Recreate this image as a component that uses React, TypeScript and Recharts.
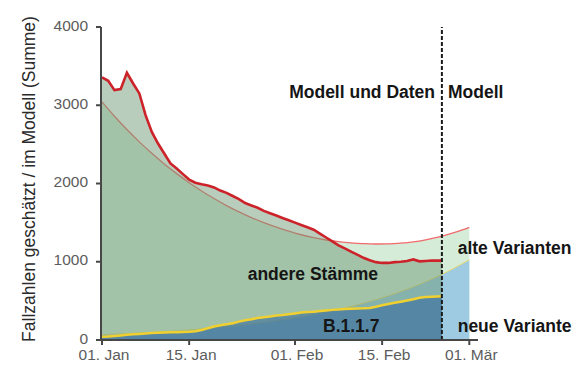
import { ComposedChart, Area, Line, XAxis, YAxis, ReferenceLine } from "recharts";

// days since 01. Jan; the last data point sits on the dashed line
const CUT = 54.6;

const tickDays = [0, 14, 31, 45, 59];
const tickLabels = ["01. Jan", "15. Jan", "01. Feb", "15. Feb", "01. Mär"];
const yTicks = [0, 1000, 2000, 3000, 4000];

// reported cases (sum), red line
const dataTotal = [
  3355, 3312, 3193, 3206, 3414, 3278, 3151, 2874, 2660, 2511,
  2384, 2256, 2192, 2120, 2050, 2010, 1990, 1975, 1950, 1910,
  1880, 1840, 1800, 1750, 1720, 1690, 1650, 1620, 1590, 1560,
  1530, 1500, 1470, 1440, 1410, 1360, 1310, 1260, 1210, 1170,
  1130, 1090, 1050, 1020, 995, 985, 985, 995, 1000, 1010,
  1030, 1005, 1010, 1015, 1015,
];

// estimated B.1.1.7 cases, yellow line
const dataB = [
  42, 45, 50, 58, 66, 72, 78, 84, 88, 92,
  96, 99, 100, 102, 106, 112, 128, 150, 172, 188,
  200, 215, 235, 252, 265, 280, 292, 300, 312, 320,
  330, 340, 350, 358, 362, 370, 378, 385, 390, 395,
  398, 402, 405, 410, 425, 445, 460, 475, 490, 505,
  520, 540, 548, 554, 560,
];

const modelDays = [
  0, 2, 4, 6, 8, 10, 12, 14, 16, 18, 20, 22, 24, 26, 28, 30,
  32, 34, 36, 38, 40, 42, 44, 46, 48, 50, 52, 54, 56, 58, 59,
];

// model, sum of both lineages
const modelTotal = [
  3043, 2860, 2690, 2532, 2386, 2250, 2126, 2010, 1905, 1808, 1718, 1638, 1565, 1500, 1442, 1390,
  1345, 1308, 1278, 1256, 1240, 1231, 1227, 1229, 1238, 1254, 1280, 1314, 1358, 1410, 1440,
];

// model, new variant only
const modelB = [
  68, 75, 82, 90, 98, 108, 118, 129, 142, 156, 171, 187, 205, 225, 247, 270,
  296, 325, 356, 391, 428, 470, 515, 564, 619, 678, 744, 815, 894, 980, 1025,
];

const dataRows = dataTotal.map((v, i) => ({
  day: i === dataTotal.length - 1 ? CUT : i,
  total: v,
  b: dataB[i],
}));

const modelRows = modelDays.map((d, i) => ({
  day: d,
  total: modelTotal[i],
  b: modelB[i],
}));

const FONT = "'Liberation Sans', Arial, Helvetica, sans-serif";
const AXIS = "#474747";

const note = {
  fontFamily: FONT,
  fontSize: 17.5,
  fontWeight: 700,
  fill: "#151515",
};

export default function App() {
  return (
    <div style={{ position: "relative", width: 574, height: 369 }}>
      <ComposedChart
        width={574}
        height={369}
        margin={{ top: 19, right: 104, bottom: 7, left: 0 }}
        style={{ fontFamily: FONT }}
      >
        <XAxis
          type="number"
          dataKey="day"
          domain={[-0.16, 60.4]}
          ticks={tickDays}
          tickFormatter={(d: number) => tickLabels[tickDays.indexOf(d)]}
          allowDataOverflow
          height={30}
          stroke={AXIS}
          strokeWidth={2}
          tickSize={5}
          tickMargin={4}
          tick={{ fill: "#5c5c5c", fontSize: 15.5, dx: 2 }}
        />
        <YAxis
          type="number"
          domain={[0, 4000]}
          ticks={yTicks}
          width={93}
          stroke={AXIS}
          strokeWidth={2}
          tickSize={5}
          tickMargin={8}
          tick={{ fill: "#5c5c5c", fontSize: 15.5, dy: -2 }}
        />

        {/* model: old + new variants */}
        <Area
          data={modelRows}
          dataKey="total"
          type="monotone"
          fill="#d5ecd8"
          fillOpacity={1}
          stroke="#f06b6b"
          strokeWidth={1.3}
          isAnimationActive={false}
        />
        {/* model: new variant */}
        <Area
          data={modelRows}
          dataKey="b"
          type="monotone"
          fill="#9ecbe2"
          fillOpacity={1}
          stroke="#e8d870"
          strokeWidth={1}
          isAnimationActive={false}
        />
        {/* data */}
        <Area
          data={dataRows}
          dataKey="total"
          type="linear"
          fill="#6d9773"
          fillOpacity={0.48}
          stroke="none"
          isAnimationActive={false}
        />
        <Area
          data={dataRows}
          dataKey="b"
          type="linear"
          fill="#366aa0"
          fillOpacity={0.6}
          stroke="none"
          isAnimationActive={false}
        />
        <Line
          data={dataRows}
          dataKey="b"
          type="linear"
          stroke="#f0d030"
          strokeWidth={2.5}
          dot={false}
          isAnimationActive={false}
        />
        <Line
          data={dataRows}
          dataKey="total"
          type="linear"
          stroke="#cc2229"
          strokeWidth={2.6}
          dot={false}
          isAnimationActive={false}
        />

        <ReferenceLine x={CUT} stroke="#1a1a1a" strokeWidth={2} strokeDasharray="4 2" />
      </ComposedChart>

      <svg
        width={574}
        height={369}
        style={{ position: "absolute", left: 0, top: 0, pointerEvents: "none" }}
      >
        <text x={21} y={171} transform="rotate(-90 21 171)" textAnchor="middle" dominantBaseline="central"
          style={{ fontFamily: FONT, fontSize: 17.5, fill: "#2a2a2a" }}>
          Fallzahlen geschätzt / im Modell (Summe)
        </text>
        <text x={427} y={90} textAnchor="end" style={note}>Modell und Daten</text>
        <text x={440} y={90} style={note}>Modell</text>
        <text x={449.7} y={246} style={note}>alte Varianten</text>
        <text x={449.7} y={324} style={note}>neue Variante</text>
        <text x={239.7} y={272} style={note}>andere Stämme</text>
        <text x={315} y={324} style={note}>B.1.1.7</text>
      </svg>
    </div>
  );
}
